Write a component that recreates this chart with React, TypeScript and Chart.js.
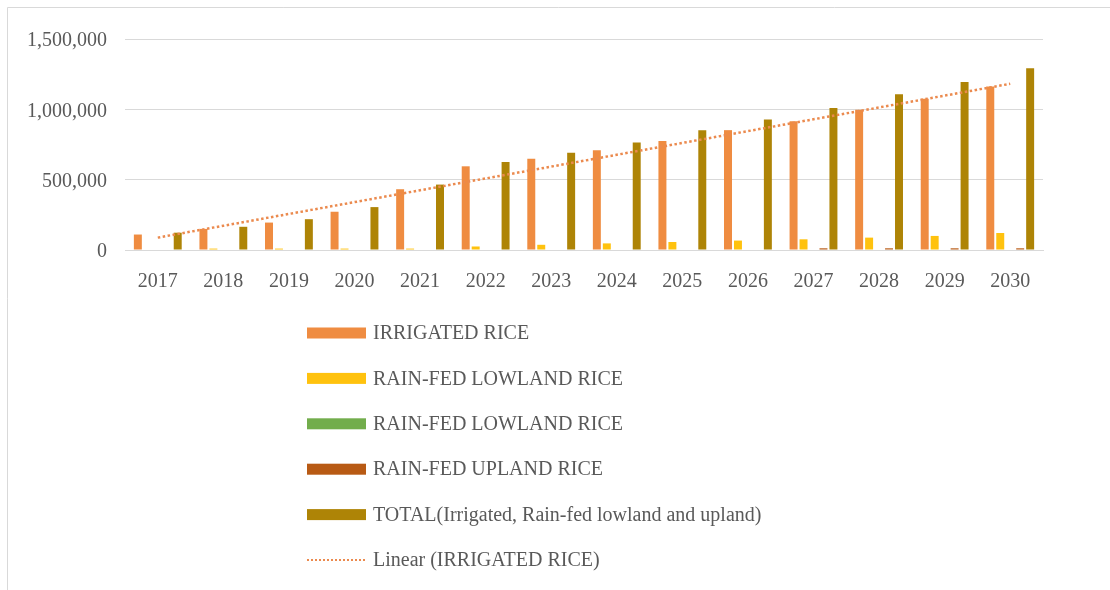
import React, { useEffect, useRef } from "react";
import { Chart, registerables } from "chart.js";

Chart.register(...registerables);

// Projected rice area by production system, 2017–2030
const years = ["2017", "2018", "2019", "2020", "2021", "2022", "2023", "2024", "2025", "2026", "2027", "2028", "2029", "2030"];
const irrigatedRice = [110000, 150000, 195000, 272000, 432000, 595000, 648000, 710000, 775000, 852000, 915000, 997000, 1075000, 1162000];
const rainfedLowlandRice = [0, 10000, 10000, 10000, 10000, 25000, 37000, 47000, 57000, 67000, 76000, 88000, 100000, 121000];
const rainfedLowlandRiceAlt = [0, 0, 0, 0, 0, 0, 0, 0, 0, 0, 0, 0, 0, 0];
const rainfedUplandRice = [0, 0, 0, 0, 0, 0, 0, 0, 0, 0, 12000, 12000, 12000, 12000];
const totalRice = [123000, 165000, 219000, 305000, 465000, 625000, 692000, 765000, 852000, 928000, 1010000, 1107000, 1195000, 1292000];
const yTickValues = [0, 500000, 1000000, 1500000];

const COLORS = {
  irrigated: "#EF8C41",
  lowland: "#FFC20E",
  lowlandAlt: "#72AD4C",
  upland: "#B85A14",
  total: "#AE8406",
  trend: "#EB8A4E",
  text: "#595959",
  grid: "#D9D9D9",
};

const FONT = "'Liberation Serif', 'Times New Roman', serif";

// Least-squares linear trend of a series over x = 1..n
function linearTrend(values: number[]): number[] {
  const n = values.length;
  const xs = values.map((_, i) => i + 1);
  const mx = xs.reduce((a, b) => a + b, 0) / n;
  const my = values.reduce((a, b) => a + b, 0) / n;
  let num = 0;
  let den = 0;
  xs.forEach((x, i) => {
    num += (x - mx) * (values[i] - my);
    den += (x - mx) * (x - mx);
  });
  const slope = num / den;
  const intercept = my - slope * mx;
  return xs.map((x) => intercept + slope * x);
}

// Outer frame of the chart
const framePlugin = {
  id: "frame",
  beforeDraw(chart: any) {
    const { ctx, width, height } = chart;
    ctx.save();
    ctx.fillStyle = "#ffffff";
    ctx.fillRect(0, 0, width, height);
    ctx.strokeStyle = COLORS.grid;
    ctx.lineWidth = 1;
    ctx.beginPath();
    ctx.moveTo(7.5, height);
    ctx.lineTo(7.5, 7.5);
    ctx.lineTo(width, 7.5);
    ctx.stroke();
    ctx.restore();
  },
};

// Vertical legend block under the plot
const stackedLegendPlugin = {
  id: "stackedLegend",
  afterDraw(chart: any) {
    const { ctx } = chart;
    const x0 = 307;
    const swatchW = 59;
    const swatchH = 11;
    const textX = 373;
    const firstY = 333;
    const rowGap = 45.4;
    ctx.save();
    ctx.font = `20px ${FONT}`;
    ctx.textBaseline = "middle";
    ctx.textAlign = "left";
    chart.data.datasets.forEach((ds: any, i: number) => {
      const y = firstY + i * rowGap;
      if (ds.type === "line") {
        ctx.strokeStyle = ds.borderColor;
        ctx.lineWidth = 2;
        ctx.setLineDash([2, 2]);
        ctx.beginPath();
        ctx.moveTo(x0, y);
        ctx.lineTo(x0 + swatchW, y);
        ctx.stroke();
        ctx.setLineDash([]);
      } else {
        ctx.fillStyle = ds.backgroundColor;
        ctx.fillRect(x0, y - swatchH / 2, swatchW, swatchH);
      }
      ctx.fillStyle = COLORS.text;
      ctx.fillText(ds.label, textX, y + 1);
    });
    ctx.restore();
  },
};

export default function App() {
  const canvasRef = useRef<HTMLCanvasElement | null>(null);

  useEffect(() => {
    document.body.style.margin = "0";
    const canvas = canvasRef.current;
    if (!canvas) return;

    const barCommon = {
      type: "bar" as const,
      categoryPercentage: 0.76,
      barPercentage: 0.8,
      order: 1,
    };

    const chart = new Chart(canvas, {
      type: "bar",
      data: {
        labels: years,
        datasets: [
          { ...barCommon, label: "IRRIGATED RICE", data: irrigatedRice, backgroundColor: COLORS.irrigated },
          { ...barCommon, label: "RAIN-FED LOWLAND RICE", data: rainfedLowlandRice, backgroundColor: COLORS.lowland },
          { ...barCommon, label: "RAIN-FED LOWLAND RICE", data: rainfedLowlandRiceAlt, backgroundColor: COLORS.lowlandAlt },
          { ...barCommon, label: "RAIN-FED UPLAND RICE", data: rainfedUplandRice, backgroundColor: COLORS.upland },
          { ...barCommon, label: "TOTAL(Irrigated, Rain-fed lowland and upland)", data: totalRice, backgroundColor: COLORS.total },
          {
            type: "line" as const,
            label: "Linear (IRRIGATED RICE)",
            data: linearTrend(irrigatedRice),
            borderColor: COLORS.trend,
            backgroundColor: COLORS.trend,
            borderWidth: 2.5,
            borderDash: [2.5, 2.5],
            pointRadius: 0,
            fill: false,
            tension: 0,
            order: 0,
          },
        ] as any,
      },
      options: {
        responsive: false,
        animation: false,
        layout: { padding: { left: 0, right: 67, top: 39, bottom: 0 } },
        plugins: {
          legend: { display: false },
          tooltip: { enabled: false },
        },
        scales: {
          x: {
            grid: { display: false, drawTicks: false },
            border: { display: true, color: COLORS.grid, width: 1 },
            ticks: {
              color: COLORS.text,
              font: { family: FONT, size: 20 },
              padding: 20,
              maxRotation: 0,
              autoSkip: false,
            },
            afterFit(scale: any) {
              scale.height = 340;
            },
          },
          y: {
            min: 0,
            max: 1500000,
            afterBuildTicks(scale: any) {
              scale.ticks = yTickValues.map((v) => ({ value: v }));
            },
            grid: { color: COLORS.grid, lineWidth: 1, drawTicks: false },
            border: { display: false },
            ticks: {
              color: COLORS.text,
              font: { family: FONT, size: 20 },
              padding: 18,
              labelOffset: 2,
              callback: (v: any) => Number(v).toLocaleString("en-US"),
            },
            afterFit(scale: any) {
              scale.width = 125;
            },
          },
        },
      },
      plugins: [framePlugin, stackedLegendPlugin],
    });

    return () => chart.destroy();
  }, []);

  return (
    <div style={{ width: 1110, height: 590 }}>
      <canvas ref={canvasRef} width={1110} height={590} />
    </div>
  );
}
